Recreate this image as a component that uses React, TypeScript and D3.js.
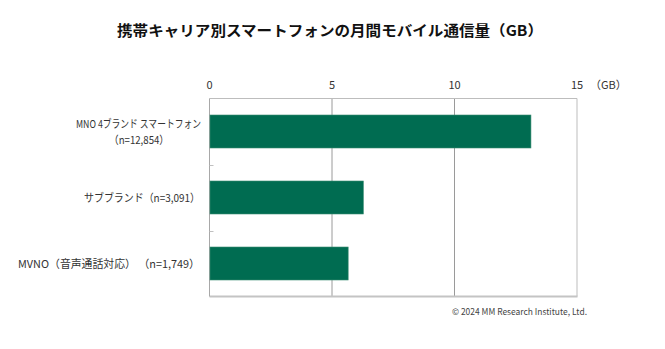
import React from "react";
import * as d3 from "d3";

const categoryLines: string[][] = [
  ["MNO 4ブランド スマートフォン", "（n=12,854）"],
  ["サブブランド（n=3,091）"],
  ["MVNO（音声通話対応） （n=1,749）"],
];
const values: number[] = [13.12, 6.28, 5.66];
const tickValues: number[] = [0, 5, 10, 15];
const title = "携帯キャリア別スマートフォンの月間モバイル通信量（GB）";
const unitLabel = "（GB）";
const credit = "© 2024 MM Research Institute, Ltd.";

const W = 665;
const H = 349;
const plot = { left: 209.5, right: 577, top: 98.5, bottom: 296.5 };
const FONT = "'Noto Sans CJK JP', 'Noto Sans', sans-serif";
const labelWidths: number[][] = [[125, 60], [116], [182]];

export default function App() {
  const x = d3.scaleLinear().domain([0, 15]).range([plot.left, plot.right]);
  const y = d3
    .scaleBand<number>()
    .domain(values.map((_, i) => i))
    .range([plot.top, plot.bottom])
    .paddingInner(0.5)
    .paddingOuter(0.25);
  const step = y.step();

  return (
    <div style={{ position: "absolute", left: 0, top: 0 }}>
      <svg width={W} height={H} style={{ display: "block" }}>
        <rect width={W} height={H} fill="#fff" />
        <text
          x={117}
          y={36}
          fontFamily={FONT}
          fontWeight="bold"
          fontSize={14.5}
          fill="#111"
          textLength={426}
          lengthAdjust="spacingAndGlyphs"
        >
          {title}
        </text>
        {tickValues.slice(1, -1).map((t) => (
          <line key={t} x1={x(t)} x2={x(t)} y1={plot.top} y2={plot.bottom} stroke="#9a9a9a" strokeWidth={1} />
        ))}
        <line x1={plot.left} x2={plot.right} y1={plot.top} y2={plot.top} stroke="#bdbdbd" />
        <line x1={plot.right} x2={plot.right} y1={plot.top} y2={plot.bottom} stroke="#bdbdbd" />
        <line x1={plot.left} x2={plot.right + 0.5} y1={plot.bottom} y2={plot.bottom} stroke="#c4c4c4" strokeWidth={2} />
        <line x1={plot.left} x2={plot.left} y1={plot.top} y2={plot.bottom} stroke="#a8a8a8" />
        {values.slice(1).map((_, i) => {
          const yy = Math.round((y(i + 1) as number) - step * 0.25) + 0.5;
          return <line key={i} x1={plot.left} x2={plot.left + 4} y1={yy} y2={yy} stroke="#c0c0c0" />;
        })}
        {values.map((v, i) => (
          <rect
            key={i}
            x={x(0) + 0.5}
            y={y(i)}
            width={x(v) - x(0) - 0.5}
            height={y.bandwidth()}
            fill="#006c51"
            stroke="#3b8c72"
            strokeWidth={0.6}
          />
        ))}
        {tickValues.map((t) => (
          <text key={t} x={x(t)} y={89} textAnchor="middle" fontFamily={FONT} fontSize={11} fill="#333">
            {t}
          </text>
        ))}
        <text x={x(15) + 13} y={89} fontFamily={FONT} fontSize={11} fill="#333">
          {unitLabel}
        </text>
        {categoryLines.map((lines, i) => {
          const cy = (y(i) as number) + y.bandwidth() / 2;
          if (lines.length === 1) {
            return (
              <text key={i} x={200} y={cy + 4} textAnchor="end" fontFamily={FONT} fontSize={11} fill="#333"
                textLength={labelWidths[i][0]} lengthAdjust="spacingAndGlyphs">
                {lines[0]}
              </text>
            );
          }
          return (
            <g key={i}>
              <text x={201} y={cy - 4} textAnchor="end" fontFamily={FONT} fontSize={11} fill="#333"
                textLength={labelWidths[i][0]} lengthAdjust="spacingAndGlyphs">
                {lines[0]}
              </text>
              <text x={139} y={cy + 12} textAnchor="middle" fontFamily={FONT} fontSize={11} fill="#333"
                textLength={labelWidths[i][1]} lengthAdjust="spacingAndGlyphs">
                {lines[1]}
              </text>
            </g>
          );
        })}
        <text x={587} y={315} textAnchor="end" fontFamily={FONT} fontSize={9} fill="#444"
          textLength={135} lengthAdjust="spacingAndGlyphs">
          {credit}
        </text>
      </svg>
    </div>
  );
}
